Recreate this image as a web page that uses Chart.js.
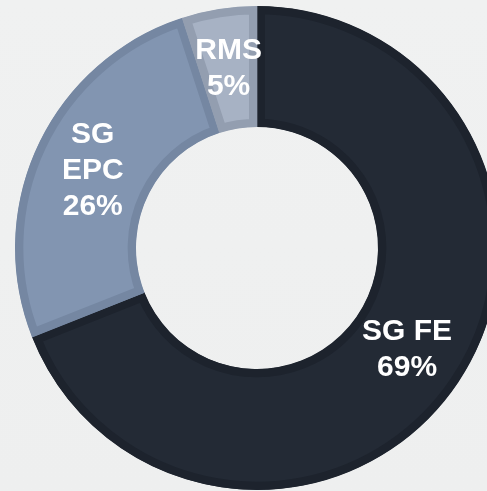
<!DOCTYPE html>
<html>
<head>
<meta charset="utf-8">
<script src="https://cdn.jsdelivr.net/npm/chart.js@4.4.0/dist/chart.umd.min.js"></script>
<style>
  html, body { margin: 0; padding: 0; }
  body { background: #eff0f0; }
  .wrap { width: 487px; height: 491px; overflow: hidden; position: relative; background: linear-gradient(#f0f1f1, #eeefef); }
  canvas { position: absolute; left: 0; top: 0; }
</style>
</head>
<body>
<div class="wrap">
  <canvas id="shareChart" width="514" height="496"></canvas>
</div>
<script>
// Share by business unit
const segments = ['SG FE', 'SG EPC', 'RMS'];
const labelLines = [['SG FE', '69%'], ['SG', 'EPC', '26%'], ['RMS', '5%']];
const shares = [69, 26, 5];

// draws the white labels in the middle of each slice
const sliceLabels = {
    id: 'sliceLabels',
    afterDatasetsDraw(chart) {
        const ctx = chart.ctx;
        const meta = chart.getDatasetMeta(0);
        ctx.save();
        ctx.fillStyle = '#ffffff';
        ctx.font = 'bold 30px "Liberation Sans", Arial, sans-serif';
        ctx.textAlign = 'center';
        ctx.textBaseline = 'middle';
        meta.data.forEach((arc, i) => {
            const p = arc.getCenterPoint();
            const lines = labelLines[i];
            const lh = 36;
            const y0 = p.y - (lines.length - 1) * lh / 2;
            lines.forEach((t, j) => ctx.fillText(t, p.x, y0 + j * lh));
        });
        ctx.restore();
    }
};

new Chart(document.getElementById('shareChart'), {
    type: 'doughnut',
    data: {
        labels: segments,
        datasets: [{
            data: shares,
            backgroundColor: ['#232a35', '#8295b1', '#a7b2c4'],
            borderColor: ['#1d232d', '#7587a2', '#939eb0'],
            borderWidth: 8,
            borderAlign: 'inner',
            borderJoinStyle: 'miter',
            hoverOffset: 0
        }]
    },
    options: {
        responsive: false,
        animation: false,
        cutout: '50%',
        layout: { padding: 6 },
        plugins: {
            legend: { display: false },
            tooltip: { enabled: false }
        }
    },
    plugins: [sliceLabels]
});
</script>
</body>
</html>
